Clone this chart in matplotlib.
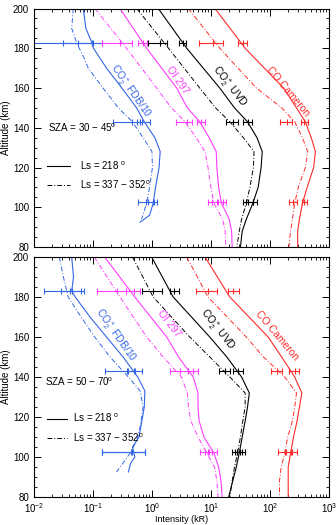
import matplotlib
matplotlib.use("Agg")
import matplotlib.pyplot as plt
from matplotlib.ticker import MultipleLocator, LogLocator, NullFormatter

plt.rcParams['font.family'] = ['Liberation Sans', 'DejaVu Sans']
plt.rcParams['font.size'] = 7
plt.rcParams['mathtext.fontset'] = 'custom'
plt.rcParams['mathtext.rm'] = 'Liberation Sans'
plt.rcParams['mathtext.it'] = 'Liberation Sans'

BLUE = '#3366e6'
MAGENTA = '#ff3cff'
BLACK = '#000000'
RED = '#ff2a2a'

# ---------------- SZA 30-45 (top) ----------------
top_alt_fdb = [200, 190, 183, 180, 170, 160, 150, 143, 135, 128, 120, 110, 102, 96, 92.5]
top_fdb = [0.0685, 0.0759, 0.0955, 0.102, 0.17, 0.309, 0.55, 0.741, 1.12, 1.38, 1.32, 1.15, 1.05, 0.912, 0.631]
top_alt_fdb_dd = [200, 190, 183, 175, 170, 160, 150, 143, 135, 128, 120, 110, 102, 94]
top_fdb_dd = [0.0463, 0.0437, 0.0525, 0.0708, 0.0832, 0.148, 0.269, 0.468, 0.708, 1.0, 1.02, 0.912, 0.813, 0.668]

top_alt = [200, 180, 160, 150, 143, 135, 128, 120, 110, 102, 94, 88, 80]
top_oi = [0.287, 0.813, 2.63, 3.98, 6.46, 9.33, 12.3, 12.6, 13.5, 15.1, 20.4, 22.4, 22.9]
top_oi_dd = [0.108, 0.372, 1.2, 2.14, 3.63, 5.62, 7.94, 8.91, 10, 11.2, 15.8, 17.4, 17.8]
top_uvd = [1.28, 3.89, 14.1, 25.1, 41.7, 60.3, 74.1, 70.8, 63.1, 51.3, 39.8, 33.9, 31.6]
top_uvd_dd = [0.551, 1.91, 6.46, 12, 20.9, 35.5, 53.7, 52.5, 45.7, 39.8, 33.1, 30.2, 27.5]
top_cam = [11.7, 38, 170, 282, 398, 501, 589, 550, 427, 355, 316, 295, 295]
top_cam_dd = [4.12, 14.1, 58.9, 158, 263, 355, 437, 398, 302, 263, 240, 224, 209]

# ---------------- SZA 50-70 (bottom) ----------------
bot_alt_fdb = [200, 190, 183, 180, 170, 160, 150, 140, 133, 125, 118, 110, 105, 100, 97, 92.5]
bot_fdb = [0.0437, 0.0468, 0.0437, 0.0501, 0.0891, 0.17, 0.324, 0.575, 0.759, 0.741, 0.676, 0.603, 0.468, 0.513, 0.437, 0.398]
bot_alt_fdb_dd = [200, 190, 180, 170, 160, 150, 140, 133, 125, 115, 108, 102, 97, 92.5]
bot_fdb_dd = [0.0269, 0.0316, 0.038, 0.0631, 0.107, 0.195, 0.398, 0.631, 0.708, 0.631, 0.55, 0.427, 0.324, 0.251]

bot_alt = [200, 180, 160, 150, 140, 132, 125, 118, 110, 102, 95, 88, 80]
bot_oi = [0.158, 0.513, 1.78, 2.82, 5.01, 6.03, 6.03, 6.31, 7.59, 11.2, 13.5, 14.8, 15.5]
bot_oi_dd = [0.105, 0.288, 0.813, 1.55, 3.16, 3.98, 4.17, 4.57, 6.03, 8.51, 11.5, 12.6, 13.2]
bot_uvd = [0.986, 2.29, 9.55, 18.6, 33.1, 44.7, 41.7, 38, 33.9, 30.2, 26.9, 23.4, 20]
bot_uvd_dd = [0.468, 1.05, 4.37, 9.55, 20.9, 38, 38, 34.7, 31.6, 28.2, 25.1, 22.9, 20.9]
bot_cam = [7.94, 20.9, 93.3, 158, 263, 347, 316, 288, 251, 224, 204, 204, 204]
bot_cam_dd = [3.89, 8.91, 39.8, 77.6, 178, 282, 263, 240, 200, 178, 155, 145, 145]

# ---------------- observations (center, low, high) ----------------
obs_alt = [182.8, 142.8, 102.7]

top_obs_fdb = ([0.0955, 0.676, 1.05], [0.0316, 0.55, 0.794], [0.14, 0.925, 1.23])
top_obs_fdb_dd = ([0.0562, 0.468, 0.871], [0.008, 0.215, 0.586], [0.1, 0.631, 1.07])
top_obs_oi = ([0.692, 6.68, 15.8], [0.589, 5.71, 13.3], [0.813, 7.91, 17.9])
top_obs_oi_dd = ([0.288, 3.87, 10.3], [0.141, 2.55, 9.02], [0.468, 4.7, 12.5])
top_obs_uvd = ([3.31, 43, 52.2], [2.87, 35.3, 39.8], [3.77, 50.2, 59.4])
top_obs_uvd_dd = ([1.37, 23.9, 43], [0.867, 17.9, 34.4], [1.77, 29, 52.5])
top_obs_cam = ([34.4, 377, 377], [29, 331, 344], [40.3, 447, 430])
top_obs_cam_dd = ([11, 191, 248], [6.34, 148, 213], [15.8, 239, 283])

bot_obs_fdb = ([0.0437, 0.513, 0.457], [0.0282, 0.398, 0.14], [0.0631, 0.668, 0.759])
bot_obs_fdb_dd = ([0.0407, 0.372, 0.437], [0.0148, 0.16, 0.14], [0.0703, 0.501, 0.759])
bot_obs_oi = ([0.501, 4.89, 10.3], [0.363, 4.13, 8.91], [0.631, 6.1, 12.5])
bot_obs_oi_dd = ([0.251, 2.99, 7.91], [0.115, 2.02, 6.52], [0.363, 4.13, 9.33])
bot_obs_uvd = ([2.36, 29, 31], [2.02, 23.9, 25.1], [2.9, 35.3, 37.7])
bot_obs_uvd_dd = ([1.05, 17.3, 27.2], [0.668, 13.7, 23], [1.46, 21, 33.1])
bot_obs_cam = ([23.9, 265, 233], [19.1, 213, 178], [30.2, 310, 283])
bot_obs_cam_dd = ([9.02, 130, 187], [5.5, 103, 135], [12.8, 158, 224])

species_labels = [r'CO$_2^+$ FDB/10', 'OI 297', r'CO$_2^+$ UVD', 'CO Cameron']
species_colors = [BLUE, MAGENTA, BLACK, RED]
legend_labels = [r'Ls = 218 $^{o}$', r'Ls = 337 $-$ 352$^{o}$']

DASHDOT = (0, (5, 2, 1, 2))


def draw_obs(ax, obs, color):
    c, lo, hi = obs
    err = [[ci - l for ci, l in zip(c, lo)], [h - ci for ci, h in zip(c, hi)]]
    ax.errorbar(c, obs_alt, xerr=err, fmt='|', color=color, ecolor=color,
                lw=0.8, elinewidth=0.8, capsize=2.5, capthick=0.8, ms=5, mew=0.8)


def draw_panel(ax, curves, obs, sza_text, text_pos, sza_pos):
    h_solid = h_dd = None
    for (alt_s, val_s, alt_d, val_d), color in zip(curves, species_colors):
        h_solid, = ax.plot(val_s, alt_s, color=color, lw=0.8)
        h_dd, = ax.plot(val_d, alt_d, color=color, lw=0.7, ls=DASHDOT)
    for (o_s, o_d), color in zip(obs, species_colors):
        draw_obs(ax, o_d, color)
        draw_obs(ax, o_s, color)

    for lab, color, (px, py, rot) in zip(species_labels, species_colors, text_pos):
        ax.text(px, py, lab, color=color, rotation=rot, ha='center', va='center',
                transform=ax.transAxes, fontsize=7.5, rotation_mode='anchor')
    ax.text(sza_pos[0], sza_pos[1], sza_text, transform=ax.transAxes,
            ha='left', va='center', fontsize=7)

    ax.set_xscale('log')
    ax.set_xlim(1e-2, 1e3)
    ax.set_ylim(80, 200)
    ax.yaxis.set_major_locator(MultipleLocator(20))
    ax.yaxis.set_minor_locator(MultipleLocator(5))
    ax.xaxis.set_major_locator(LogLocator(base=10, numticks=10))
    ax.xaxis.set_minor_locator(LogLocator(base=10, subs=range(2, 10), numticks=20))
    ax.xaxis.set_minor_formatter(NullFormatter())
    ax.tick_params(which='both', direction='in', top=True, right=True, labelsize=7)
    ax.tick_params(which='major', length=5, width=0.7)
    ax.tick_params(axis='y', which='major', pad=3.5)
    ax.tick_params(axis='x', which='major', pad=3)
    ax.tick_params(which='minor', length=2.5, width=0.6)
    for s in ax.spines.values():
        s.set_linewidth(0.8)
    ax.set_ylabel('Altitude (km)', fontsize=7, labelpad=1.5)
    return h_solid, h_dd


fig = plt.figure(figsize=(3.36, 5.25), dpi=100)
ax1 = fig.add_axes([0.101, 0.5295, 0.878, 0.4543])
ax2 = fig.add_axes([0.101, 0.0533, 0.878, 0.4572])

top_curves = [
    (top_alt_fdb, top_fdb, top_alt_fdb_dd, top_fdb_dd),
    (top_alt, top_oi, top_alt, top_oi_dd),
    (top_alt, top_uvd, top_alt, top_uvd_dd),
    (top_alt, top_cam, top_alt, top_cam_dd),
]
top_obs = [
    (top_obs_fdb, top_obs_fdb_dd),
    (top_obs_oi, top_obs_oi_dd),
    (top_obs_uvd, top_obs_uvd_dd),
    (top_obs_cam, top_obs_cam_dd),
]
bot_curves = [
    (bot_alt_fdb, bot_fdb, bot_alt_fdb_dd, bot_fdb_dd),
    (bot_alt, bot_oi, bot_alt, bot_oi_dd),
    (bot_alt, bot_uvd, bot_alt, bot_uvd_dd),
    (bot_alt, bot_cam, bot_alt, bot_cam_dd),
]
bot_obs = [
    (bot_obs_fdb, bot_obs_fdb_dd),
    (bot_obs_oi, bot_obs_oi_dd),
    (bot_obs_uvd, bot_obs_uvd_dd),
    (bot_obs_cam, bot_obs_cam_dd),
]

top_text = [(0.325, 0.651, -55), (0.485, 0.700, -55), (0.658, 0.671, -52), (0.861, 0.650, -50)]
bot_text = [(0.272, 0.672, -55), (0.458, 0.721, -52), (0.619, 0.696, -52), (0.825, 0.675, -50)]

hs, hd = draw_panel(ax1, top_curves, top_obs, r'SZA = 30 $-$ 45$^{o}$', top_text, (0.047, 0.498))
ax1.tick_params(axis='x', labelbottom=False)
leg = ax1.legend([hs, hd], legend_labels, loc='center left', bbox_to_anchor=(0.043, 0.302),
                 frameon=False, fontsize=7, handlelength=2.4, handletextpad=1.0,
                 labelspacing=0.7, borderpad=0, borderaxespad=0)
for h in leg.legend_handles:
    h.set_color('black')

hs, hd = draw_panel(ax2, bot_curves, bot_obs, r'SZA = 50 $-$ 70$^{o}$', bot_text, (0.037, 0.48))
leg = ax2.legend([hs, hd], legend_labels, loc='center left', bbox_to_anchor=(0.043, 0.288),
                 frameon=False, fontsize=7, handlelength=2.1, handletextpad=0.6,
                 labelspacing=0.7, borderpad=0, borderaxespad=0)
for h in leg.legend_handles:
    h.set_color('black')
ax2.set_xlabel('Intensity (kR)', fontsize=6.5, labelpad=0)

fig.savefig('out.png', dpi=100)
